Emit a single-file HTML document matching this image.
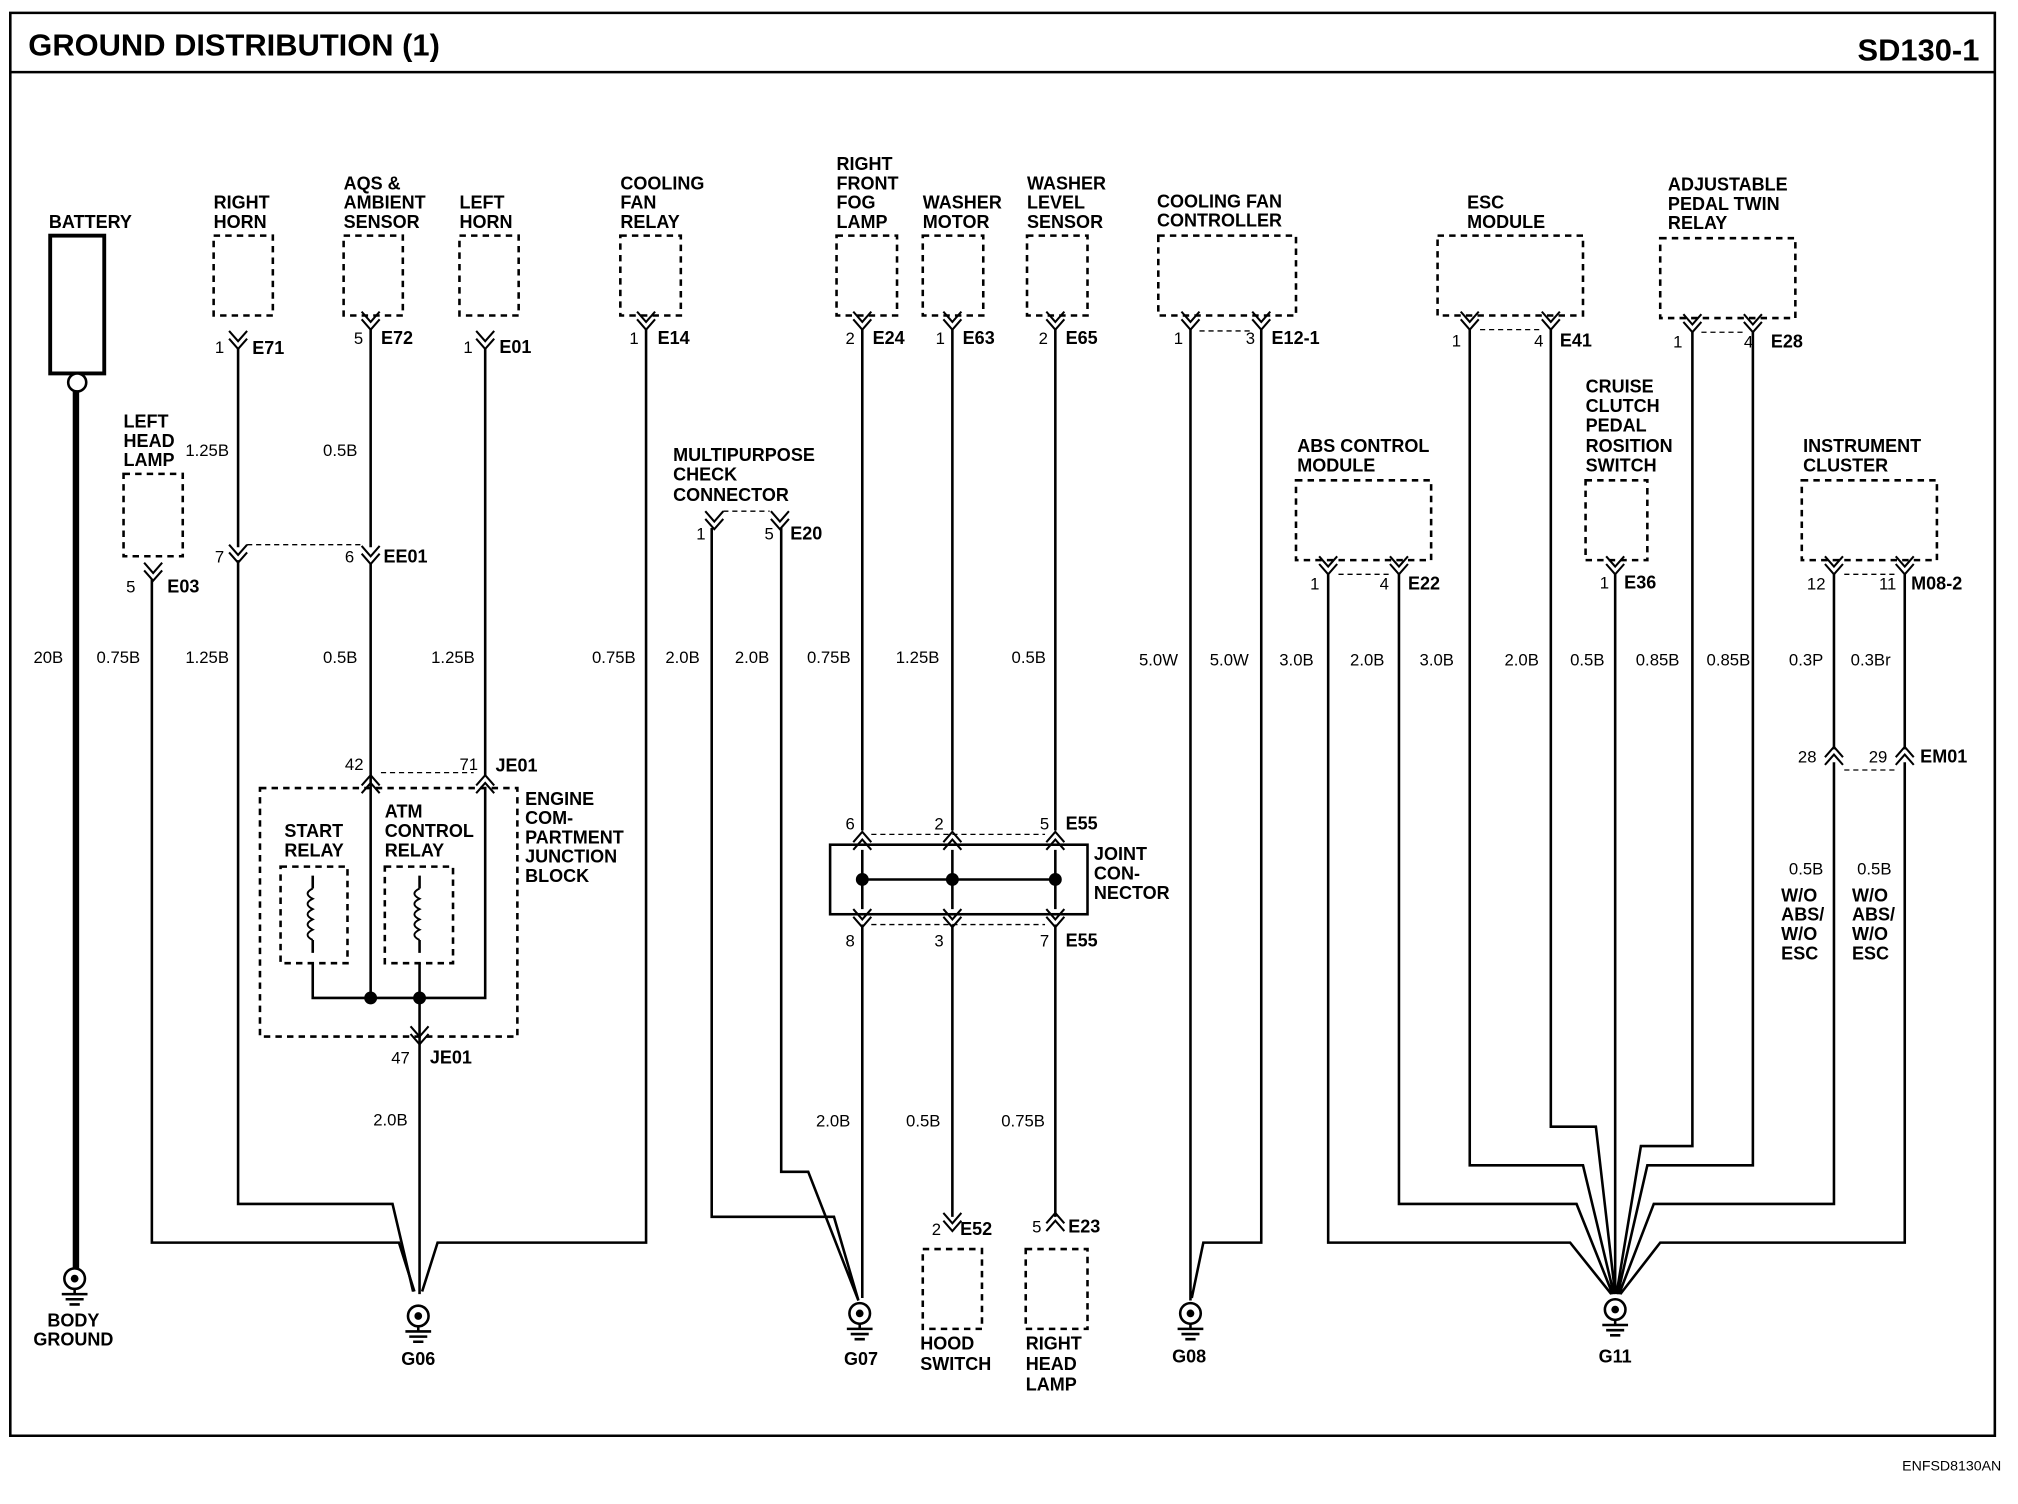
<!DOCTYPE html>
<html><head><meta charset="utf-8"><style>
html,body{margin:0;padding:0;background:#fff}
svg{display:block}
text{font-family:"Liberation Sans",Arial,sans-serif;font-weight:bold;font-size:14px;fill:#000}
.s{font-size:13px;font-weight:normal}
.w{fill:none;stroke:#000;stroke-width:2}
.d{fill:none;stroke:#000;stroke-width:2;stroke-dasharray:5,4}
.t{fill:none;stroke:#000;stroke-width:1;stroke-dasharray:4,3}
</style></head><body>
<svg width="2018" height="1504" viewBox="0 0 1568 1168" preserveAspectRatio="none">
<defs>
<g id="c"><path d="M-7,-8 L0,0 L7,-8 M-7,-2 L0,6 L7,-2" fill="none" stroke="#000" stroke-width="1.6"/></g>
<g id="u"><path d="M-7,8 L0,0 L7,8 M-7,2 L0,-6 L7,2" fill="none" stroke="#000" stroke-width="1.6"/></g>
<g id="g"><circle cx="0" cy="0" r="8" fill="#fff" stroke="#000" stroke-width="2"/><circle cx="0" cy="0" r="3"/><path d="M0,8 V12 M-10,12 H10 M-7,16 H7 M-4,20 H4" stroke="#000" stroke-width="2"/></g>
</defs>
<path d="M8,10 H1550 V1115 H8 Z M8,56 H1550" fill="none" stroke="#000" stroke-width="2"/>
<text x="22" y="43" style="font-size:24px">GROUND DISTRIBUTION (1)</text>
<text x="1538" y="47" text-anchor="end" style="font-size:24px">SD130-1</text>
<text x="1555" y="1142" text-anchor="end" class="s" style="font-size:11px">ENFSD8130AN</text>

<text x="38" y="177">BATTERY</text>
<rect x="39" y="183" width="42" height="107" fill="none" stroke="#000" stroke-width="3"/>
<circle cx="60" cy="297" r="7" fill="#fff" stroke="#000" stroke-width="2"/>
<path d="M59,304 V985" stroke="#000" stroke-width="5"/>
<use href="#g" x="58" y="993"/>
<text x="57" y="1030" text-anchor="middle">BODY</text><text x="57" y="1045" text-anchor="middle">GROUND</text>

<text x="96" y="332">LEFT</text><text x="96" y="347">HEAD</text><text x="96" y="362">LAMP</text>
<rect x="96" y="368" width="46" height="64" class="d"/>
<use href="#c" x="119" y="445"/><text x="98" y="460" class="s">5</text><text x="130" y="460">E03</text>
<path class="w" d="M118,450 V965 H310 L322,1003"/>

<text x="166" y="162">RIGHT</text><text x="166" y="177">HORN</text>
<rect x="166" y="183" width="46" height="62" class="d"/>
<use href="#c" x="185" y="265"/><text x="167" y="274" class="s">1</text><text x="196" y="275">E71</text>
<path class="w" d="M185,270 V425 M185,435 V935 H305 L321,1003"/>
<use href="#c" x="185" y="431"/><text x="167" y="437" class="s">7</text>
<path class="t" d="M192,423 H280"/>

<text x="267" y="147">AQS &amp;</text><text x="267" y="162">AMBIENT</text><text x="267" y="177">SENSOR</text>
<rect x="267" y="183" width="46" height="62" class="d"/>
<use href="#c" x="288" y="250"/><text x="275" y="267" class="s">5</text><text x="296" y="267">E72</text>
<path class="w" d="M288,255 V425 M288,437 V602"/>
<use href="#c" x="288" y="432"/><text x="268" y="437" class="s">6</text><text x="298" y="437">EE01</text>

<text x="357" y="162">LEFT</text><text x="357" y="177">HORN</text>
<rect x="357" y="183" width="46" height="62" class="d"/>
<use href="#c" x="377" y="265"/><text x="360" y="274" class="s">1</text><text x="388" y="274">E01</text>
<path class="w" d="M377,270 V602 M377,612 V775 H243 V748"/>

<rect x="202" y="612" width="200" height="193" class="d"/>
<use href="#u" x="288" y="608"/><use href="#u" x="377" y="608"/>
<text x="268" y="598" class="s">42</text><text x="357" y="598" class="s">71</text><text x="385" y="599">JE01</text>
<path class="t" d="M296,600 H368"/>
<text x="408" y="625">ENGINE</text><text x="408" y="640">COM-</text><text x="408" y="655">PARTMENT</text><text x="408" y="670">JUNCTION</text><text x="408" y="685">BLOCK</text>
<text x="221" y="650">START</text><text x="221" y="665">RELAY</text>
<text x="299" y="635">ATM</text><text x="299" y="650">CONTROL</text><text x="299" y="665">RELAY</text>
<rect x="218" y="673" width="52" height="75" class="d"/>
<rect x="299" y="673" width="53" height="75" class="d"/>
<path d="M243,680 V690 M243,730 V740 M326,680 V690 M326,730 V740" class="w"/>
<path d="M243,690 q-8,4 0,8 q-8,4 0,8 q-8,4 0,8 q-8,4 0,8 q-8,4 0,8 M326,690 q-8,4 0,8 q-8,4 0,8 q-8,4 0,8 q-8,4 0,8 q-8,4 0,8" fill="none" stroke="#000" stroke-width="1.5"/>
<path class="w" d="M326,748 V775 M288,602 V775"/>
<circle cx="288" cy="775" r="5"/><circle cx="326" cy="775" r="5"/>
<use href="#c" x="326" y="805"/>
<path class="w" d="M326,775 V1005"/>
<text x="304" y="826" class="s">47</text><text x="334" y="826">JE01</text>
<use href="#g" x="325" y="1022"/><text x="325" y="1060" text-anchor="middle">G06</text>

<text x="482" y="147">COOLING</text><text x="482" y="162">FAN</text><text x="482" y="177">RELAY</text>
<rect x="482" y="183" width="47" height="62" class="d"/>
<use href="#c" x="502" y="250"/><text x="489" y="267" class="s">1</text><text x="511" y="267">E14</text>
<path class="w" d="M502,255 V965 H340 L328,1003"/>

<text x="523" y="358">MULTIPURPOSE</text><text x="523" y="373">CHECK</text><text x="523" y="389">CONNECTOR</text>
<use href="#c" x="555" y="405"/><use href="#c" x="606" y="405"/>
<path class="t" d="M562,397 H598"/>
<text x="541" y="419" class="s">1</text><text x="594" y="419" class="s">5</text><text x="614" y="419">E20</text>
<path class="w" d="M553,410 V945 H648 L667,1010 M607,410 V910 H628 L667,1010"/>

<text x="650" y="132">RIGHT</text><text x="650" y="147">FRONT</text><text x="650" y="162">FOG</text><text x="650" y="177">LAMP</text>
<rect x="650" y="183" width="47" height="62" class="d"/>
<text x="717" y="162">WASHER</text><text x="717" y="177">MOTOR</text>
<rect x="717" y="183" width="47" height="62" class="d"/>
<text x="798" y="147">WASHER</text><text x="798" y="162">LEVEL</text><text x="798" y="177">SENSOR</text>
<rect x="798" y="183" width="47" height="62" class="d"/>
<use href="#c" x="670" y="250"/><use href="#c" x="740" y="250"/><use href="#c" x="820" y="250"/>
<text x="657" y="267" class="s">2</text><text x="678" y="267">E24</text>
<text x="727" y="267" class="s">1</text><text x="748" y="267">E63</text>
<text x="807" y="267" class="s">2</text><text x="828" y="267">E65</text>
<path class="w" d="M670,255 V645 M740,255 V645 M820,255 V645"/>
<rect x="645" y="656" width="200" height="54" fill="none" stroke="#000" stroke-width="2"/>
<use href="#u" x="670" y="652"/><use href="#u" x="740" y="652"/><use href="#u" x="820" y="652"/>
<use href="#c" x="670" y="714"/><use href="#c" x="740" y="714"/><use href="#c" x="820" y="714"/>
<path class="t" d="M677,648 H812 M677,718 H812"/>
<path class="w" d="M670,660 V706 M740,660 V706 M820,660 V706 M670,683 H820"/>
<circle cx="670" cy="683" r="5"/><circle cx="740" cy="683" r="5"/><circle cx="820" cy="683" r="5"/>
<text x="657" y="644" class="s">6</text><text x="726" y="644" class="s">2</text><text x="808" y="644" class="s">5</text><text x="828" y="644">E55</text>
<text x="657" y="735" class="s">8</text><text x="726" y="735" class="s">3</text><text x="808" y="735" class="s">7</text><text x="828" y="735">E55</text>
<text x="850" y="668">JOINT</text><text x="850" y="683">CON-</text><text x="850" y="698">NECTOR</text>
<path class="w" d="M670,718 V1008 M740,718 V945 M820,718 V945"/>
<use href="#g" x="668" y="1020"/><text x="669" y="1060" text-anchor="middle">G07</text>
<use href="#c" x="740" y="950"/><text x="724" y="959" class="s">2</text><text x="746" y="959">E52</text>
<use href="#u" x="820" y="948"/><text x="802" y="957" class="s">5</text><text x="830" y="957">E23</text>
<rect x="717" y="970" width="46" height="62" class="d"/><rect x="797" y="970" width="48" height="62" class="d"/>
<text x="715" y="1048">HOOD</text><text x="715" y="1064">SWITCH</text>
<text x="797" y="1048">RIGHT</text><text x="797" y="1064">HEAD</text><text x="797" y="1080">LAMP</text>

<text x="899" y="161">COOLING FAN</text><text x="899" y="176">CONTROLLER</text>
<rect x="900" y="183" width="107" height="62" class="d"/>
<use href="#c" x="925" y="250"/><use href="#c" x="980" y="250"/>
<path class="t" d="M932,257 H972"/>
<text x="912" y="267" class="s">1</text><text x="968" y="267" class="s">3</text><text x="988" y="267">E12-1</text>
<path class="w" d="M925,255 V1010 M980,255 V965 H935 L926,1008"/>
<use href="#g" x="925" y="1020"/><text x="924" y="1058" text-anchor="middle">G08</text>

<text x="1008" y="351">ABS CONTROL</text><text x="1008" y="366">MODULE</text>
<rect x="1007" y="373" width="105" height="62" class="d"/>
<use href="#c" x="1032" y="440"/><use href="#c" x="1087" y="440"/>
<path class="t" d="M1040,446 H1079"/>
<text x="1018" y="458" class="s">1</text><text x="1072" y="458" class="s">4</text><text x="1094" y="458">E22</text>
<text x="1140" y="162">ESC</text><text x="1140" y="177">MODULE</text>
<rect x="1117" y="183" width="113" height="62" class="d"/>
<use href="#c" x="1142" y="250"/><use href="#c" x="1205" y="250"/>
<path class="t" d="M1150,256 H1197"/>
<text x="1128" y="269" class="s">1</text><text x="1192" y="269" class="s">4</text><text x="1212" y="269">E41</text>
<text x="1232" y="305">CRUISE</text><text x="1232" y="320">CLUTCH</text><text x="1232" y="335">PEDAL</text><text x="1232" y="351">ROSITION</text><text x="1232" y="366">SWITCH</text>
<rect x="1232" y="373" width="48" height="62" class="d"/>
<use href="#c" x="1255" y="440"/><text x="1243" y="457" class="s">1</text><text x="1262" y="457">E36</text>
<text x="1296" y="148">ADJUSTABLE</text><text x="1296" y="163">PEDAL TWIN</text><text x="1296" y="178">RELAY</text>
<rect x="1290" y="185" width="105" height="62" class="d"/>
<use href="#c" x="1315" y="252"/><use href="#c" x="1362" y="252"/>
<path class="t" d="M1322,258 H1354"/>
<text x="1300" y="270" class="s">1</text><text x="1355" y="270" class="s">4</text><text x="1376" y="270">E28</text>
<text x="1401" y="351">INSTRUMENT</text><text x="1401" y="366">CLUSTER</text>
<rect x="1400" y="373" width="105" height="62" class="d"/>
<use href="#c" x="1425" y="440"/><use href="#c" x="1480" y="440"/>
<path class="t" d="M1433,446 H1472"/>
<text x="1404" y="458" class="s">12</text><text x="1460" y="458" class="s">11</text><text x="1485" y="458">M08-2</text>
<use href="#u" x="1425" y="586"/><use href="#u" x="1480" y="586"/>
<path class="t" d="M1433,598 H1472"/>
<text x="1397" y="592" class="s">28</text><text x="1452" y="592" class="s">29</text><text x="1492" y="592">EM01</text>
<text x="1390" y="679" class="s">0.5B</text><text x="1443" y="679" class="s">0.5B</text>
<text x="1384" y="700">W/O</text><text x="1384" y="715">ABS/</text><text x="1384" y="730">W/O</text><text x="1384" y="745">ESC</text>
<text x="1439" y="700">W/O</text><text x="1439" y="715">ABS/</text><text x="1439" y="730">W/O</text><text x="1439" y="745">ESC</text>
<path class="w" d="M1032,445 V965 H1220 L1252,1005 M1087,445 V935 H1225 L1253,1005 M1142,255 V905 H1230 L1254,1005 M1205,255 V875 H1240 L1255,1005 M1255,445 V1005 M1315,257 V890 H1275 L1256,1005 M1362,257 V905 H1280 L1257,1005 M1425,445 V582 M1425,592 V935 H1285 L1258,1005 M1480,445 V582 M1480,592 V965 H1290 L1259,1005"/>
<use href="#g" x="1255" y="1017"/><text x="1255" y="1058" text-anchor="middle">G11</text>

<g class="s">
<text x="144" y="354" class="s">1.25B</text><text x="251" y="354" class="s">0.5B</text>
<text x="26" y="515" class="s">20B</text><text x="75" y="515" class="s">0.75B</text><text x="144" y="515" class="s">1.25B</text>
<text x="251" y="515" class="s">0.5B</text><text x="335" y="515" class="s">1.25B</text><text x="460" y="515" class="s">0.75B</text>
<text x="517" y="515" class="s">2.0B</text><text x="571" y="515" class="s">2.0B</text><text x="627" y="515" class="s">0.75B</text>
<text x="696" y="515" class="s">1.25B</text><text x="786" y="515" class="s">0.5B</text><text x="885" y="517" class="s">5.0W</text>
<text x="940" y="517" class="s">5.0W</text><text x="994" y="517" class="s">3.0B</text><text x="1049" y="517" class="s">2.0B</text>
<text x="1103" y="517" class="s">3.0B</text><text x="1169" y="517" class="s">2.0B</text><text x="1220" y="517" class="s">0.5B</text>
<text x="1271" y="517" class="s">0.85B</text><text x="1326" y="517" class="s">0.85B</text><text x="1390" y="517" class="s">0.3P</text>
<text x="1438" y="517" class="s">0.3Br</text>
<text x="290" y="874" class="s">2.0B</text><text x="634" y="875" class="s">2.0B</text><text x="704" y="875" class="s">0.5B</text><text x="778" y="875" class="s">0.75B</text>
</g>
</svg>
</body></html>
